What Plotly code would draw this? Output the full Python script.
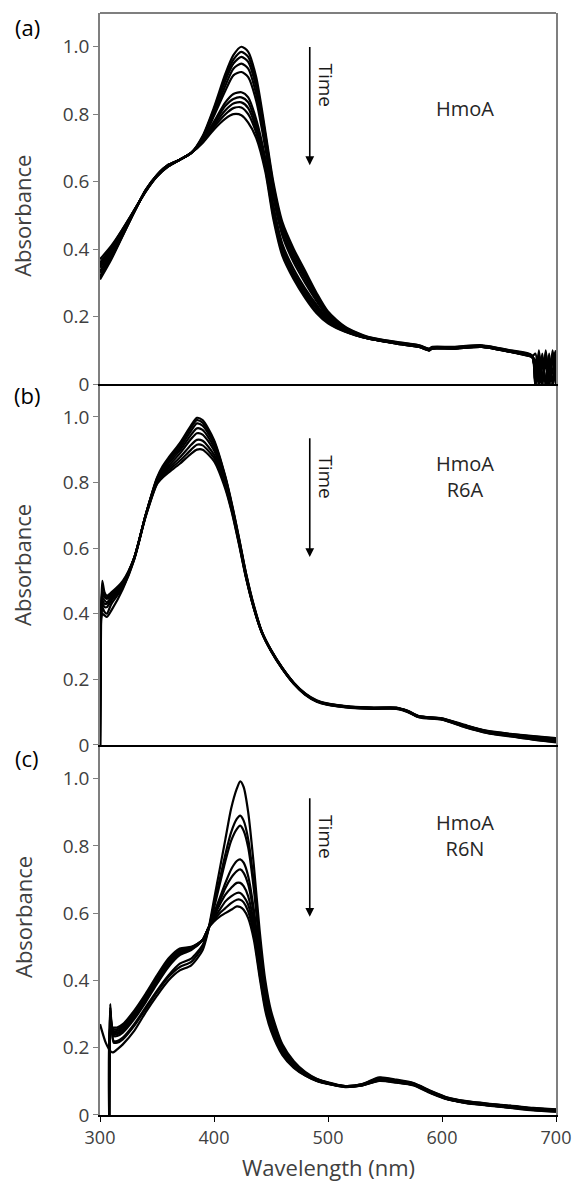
import plotly.graph_objects as go

# ---- panel (a) HmoA ----
wl_a = [300, 310, 320, 330, 340, 350, 360, 370, 380, 390, 400, 410, 417, 424, 430, 437, 445, 452, 460, 470,
        480, 490, 500, 515, 535, 560, 580, 589, 591, 610, 635, 660, 679, 682, 685, 688, 691, 694, 697, 700]
abs_a = [
    [0.31, 0.37, 0.44, 0.51, 0.575, 0.62, 0.65, 0.665, 0.685, 0.735, 0.82, 0.92, 0.975, 1.00, 0.985, 0.91, 0.75, 0.60, 0.48, 0.40,
     0.335, 0.27, 0.215, 0.17, 0.14, 0.125, 0.115, 0.105, 0.11, 0.11, 0.115, 0.10, 0.085, 0.00, 0.10, 0.01, 0.095, 0.00, 0.10, 0.03],
    [0.315, 0.375, 0.44, 0.51, 0.575, 0.62, 0.65, 0.665, 0.685, 0.732, 0.815, 0.91, 0.962, 0.985, 0.97, 0.895, 0.74, 0.59, 0.47, 0.39,
     0.326, 0.264, 0.21, 0.168, 0.139, 0.124, 0.114, 0.104, 0.109, 0.109, 0.114, 0.099, 0.084, 0.02, 0.09, 0.00, 0.10, 0.01, 0.09, 0.00],
    [0.32, 0.38, 0.445, 0.51, 0.575, 0.62, 0.65, 0.665, 0.685, 0.73, 0.81, 0.90, 0.95, 0.97, 0.955, 0.88, 0.73, 0.58, 0.46, 0.38,
     0.318, 0.258, 0.206, 0.166, 0.138, 0.123, 0.113, 0.103, 0.108, 0.108, 0.113, 0.098, 0.083, 0.05, 0.00, 0.08, 0.00, 0.09, 0.00, 0.08],
    [0.33, 0.385, 0.445, 0.51, 0.573, 0.618, 0.648, 0.665, 0.685, 0.727, 0.80, 0.885, 0.935, 0.95, 0.935, 0.86, 0.715, 0.57, 0.45, 0.37,
     0.31, 0.252, 0.202, 0.164, 0.137, 0.122, 0.112, 0.102, 0.107, 0.107, 0.112, 0.097, 0.082, 0.00, 0.07, 0.00, 0.08, 0.02, 0.07, 0.10],
    [0.335, 0.39, 0.45, 0.512, 0.573, 0.618, 0.648, 0.665, 0.685, 0.725, 0.795, 0.87, 0.915, 0.925, 0.91, 0.84, 0.70, 0.555, 0.44, 0.36,
     0.30, 0.246, 0.198, 0.162, 0.136, 0.122, 0.112, 0.102, 0.107, 0.107, 0.112, 0.097, 0.082, 0.09, 0.00, 0.06, 0.01, 0.00, 0.09, 0.02],
    [0.345, 0.395, 0.452, 0.513, 0.572, 0.617, 0.647, 0.665, 0.685, 0.72, 0.778, 0.835, 0.86, 0.865, 0.85, 0.785, 0.67, 0.53, 0.415, 0.34,
     0.283, 0.235, 0.193, 0.16, 0.136, 0.121, 0.111, 0.101, 0.106, 0.106, 0.111, 0.096, 0.081, 0.00, 0.09, 0.00, 0.00, 0.07, 0.00, 0.09],
    [0.35, 0.40, 0.455, 0.514, 0.572, 0.617, 0.647, 0.665, 0.685, 0.72, 0.773, 0.825, 0.845, 0.85, 0.835, 0.77, 0.66, 0.52, 0.405, 0.33,
     0.275, 0.229, 0.19, 0.158, 0.135, 0.121, 0.111, 0.101, 0.106, 0.106, 0.111, 0.096, 0.081, 0.06, 0.02, 0.09, 0.00, 0.05, 0.01, 0.06],
    [0.355, 0.40, 0.457, 0.515, 0.571, 0.616, 0.646, 0.665, 0.685, 0.718, 0.768, 0.812, 0.832, 0.835, 0.818, 0.758, 0.65, 0.51, 0.395, 0.322,
     0.268, 0.223, 0.186, 0.157, 0.135, 0.12, 0.11, 0.10, 0.105, 0.105, 0.11, 0.095, 0.08, 0.00, 0.05, 0.00, 0.08, 0.00, 0.00, 0.05],
    [0.36, 0.405, 0.46, 0.515, 0.571, 0.616, 0.646, 0.665, 0.685, 0.717, 0.762, 0.80, 0.818, 0.82, 0.80, 0.745, 0.64, 0.50, 0.387, 0.315,
     0.261, 0.216, 0.183, 0.156, 0.135, 0.12, 0.11, 0.10, 0.105, 0.105, 0.11, 0.095, 0.08, 0.07, 0.00, 0.02, 0.06, 0.00, 0.04, 0.08],
    [0.37, 0.41, 0.46, 0.515, 0.57, 0.615, 0.645, 0.665, 0.685, 0.715, 0.755, 0.787, 0.80, 0.797, 0.775, 0.73, 0.63, 0.49, 0.38, 0.31,
     0.255, 0.21, 0.18, 0.155, 0.135, 0.12, 0.11, 0.10, 0.105, 0.105, 0.11, 0.095, 0.08, 0.00, 0.00, 0.08, 0.00, 0.01, 0.08, 0.00],
]

# ---- panel (b) HmoA R6A ----
wl_b = [300, 301, 302, 304, 306, 310, 320, 330, 340, 350, 355, 360, 370, 380, 385, 390, 400, 410, 416, 422,
        428, 435, 442, 450, 460, 470, 480, 490, 500, 520, 540, 560, 570, 580, 600, 620, 640, 660, 680, 700]
abs_b = [
    [0.0, 0.39, 0.40, 0.395, 0.39, 0.41, 0.475, 0.565, 0.70, 0.815, 0.85, 0.875, 0.92, 0.975, 0.997, 0.99, 0.93, 0.818, 0.73, 0.63,
     0.525, 0.425, 0.345, 0.29, 0.235, 0.19, 0.157, 0.136, 0.126, 0.117, 0.114, 0.114, 0.104, 0.088, 0.081, 0.061, 0.043, 0.034, 0.027, 0.021],
    [0.0, 0.40, 0.50, 0.465, 0.455, 0.465, 0.50, 0.57, 0.70, 0.812, 0.845, 0.87, 0.913, 0.968, 0.99, 0.982, 0.925, 0.815, 0.727, 0.628,
     0.523, 0.423, 0.345, 0.289, 0.234, 0.189, 0.156, 0.135, 0.125, 0.116, 0.113, 0.113, 0.103, 0.087, 0.08, 0.06, 0.042, 0.033, 0.026, 0.019],
    [0.0, 0.40, 0.47, 0.455, 0.45, 0.46, 0.495, 0.57, 0.70, 0.81, 0.84, 0.865, 0.905, 0.958, 0.98, 0.973, 0.918, 0.812, 0.724, 0.625,
     0.521, 0.421, 0.344, 0.289, 0.234, 0.189, 0.156, 0.135, 0.125, 0.116, 0.113, 0.113, 0.103, 0.087, 0.08, 0.059, 0.041, 0.032, 0.024, 0.017],
    [0.0, 0.40, 0.46, 0.45, 0.445, 0.455, 0.495, 0.57, 0.70, 0.808, 0.835, 0.858, 0.897, 0.946, 0.965, 0.96, 0.908, 0.805, 0.72, 0.622,
     0.518, 0.419, 0.344, 0.288, 0.233, 0.188, 0.155, 0.134, 0.124, 0.115, 0.112, 0.112, 0.102, 0.086, 0.079, 0.058, 0.04, 0.03, 0.022, 0.015],
    [0.0, 0.40, 0.45, 0.44, 0.435, 0.45, 0.49, 0.57, 0.70, 0.805, 0.83, 0.85, 0.888, 0.933, 0.95, 0.946, 0.898, 0.80, 0.716, 0.619,
     0.516, 0.418, 0.343, 0.288, 0.233, 0.188, 0.155, 0.134, 0.124, 0.115, 0.112, 0.112, 0.102, 0.086, 0.079, 0.057, 0.039, 0.029, 0.02, 0.013],
    [0.0, 0.40, 0.44, 0.43, 0.43, 0.445, 0.49, 0.57, 0.698, 0.80, 0.825, 0.843, 0.876, 0.915, 0.93, 0.927, 0.885, 0.793, 0.712, 0.616,
     0.514, 0.417, 0.343, 0.287, 0.232, 0.187, 0.154, 0.133, 0.123, 0.114, 0.111, 0.111, 0.101, 0.085, 0.078, 0.056, 0.038, 0.028, 0.018, 0.011],
    [0.0, 0.40, 0.43, 0.42, 0.42, 0.44, 0.485, 0.568, 0.697, 0.797, 0.82, 0.836, 0.866, 0.90, 0.915, 0.913, 0.875, 0.786, 0.708, 0.613,
     0.512, 0.416, 0.342, 0.287, 0.232, 0.187, 0.154, 0.133, 0.123, 0.114, 0.111, 0.111, 0.101, 0.085, 0.078, 0.055, 0.037, 0.027, 0.017, 0.009],
    [0.0, 0.40, 0.42, 0.405, 0.40, 0.43, 0.48, 0.566, 0.695, 0.795, 0.815, 0.83, 0.857, 0.888, 0.90, 0.90, 0.865, 0.78, 0.704, 0.61,
     0.51, 0.415, 0.342, 0.286, 0.231, 0.186, 0.153, 0.132, 0.122, 0.113, 0.11, 0.11, 0.1, 0.084, 0.077, 0.054, 0.036, 0.026, 0.016, 0.008],
]

# ---- panel (c) HmoA R6N ----
wl_c = [300, 305, 308, 309, 310, 312, 315, 320, 330, 340, 350, 360, 370, 380, 390, 395, 400, 405, 410, 415, 420, 423,
        426, 430, 435, 440, 445, 450, 460, 470, 480, 490, 500, 515, 530, 545, 560, 575, 590, 605, 620, 640, 660, 680, 700]
abs_c = [
    [0.27, 0.215, 0.195, 0.19, 0.187, 0.187, 0.195, 0.21, 0.25, 0.305, 0.355, 0.40, 0.43, 0.445, 0.49, 0.55, 0.64, 0.73, 0.82, 0.91, 0.97, 0.992,
     0.975, 0.90, 0.74, 0.55, 0.40, 0.31, 0.21, 0.16, 0.128, 0.108, 0.097, 0.086, 0.092, 0.112, 0.105, 0.095, 0.072, 0.052, 0.042, 0.034, 0.028, 0.021, 0.017],
    [None, None, 0.0, 0.33, 0.27, 0.215, 0.215, 0.225, 0.265, 0.315, 0.365, 0.41, 0.44, 0.455, 0.50, 0.55, 0.625, 0.70, 0.775, 0.84, 0.88, 0.89,
     0.875, 0.82, 0.69, 0.52, 0.385, 0.30, 0.205, 0.155, 0.125, 0.107, 0.096, 0.086, 0.091, 0.110, 0.103, 0.094, 0.071, 0.051, 0.041, 0.033, 0.027, 0.02, 0.016],
    [None, None, 0.0, 0.32, 0.27, 0.22, 0.22, 0.23, 0.27, 0.32, 0.37, 0.415, 0.45, 0.465, 0.505, 0.55, 0.615, 0.685, 0.755, 0.815, 0.85, 0.86,
     0.845, 0.795, 0.67, 0.505, 0.375, 0.295, 0.20, 0.153, 0.124, 0.106, 0.096, 0.086, 0.091, 0.109, 0.102, 0.093, 0.07, 0.05, 0.04, 0.032, 0.026, 0.019, 0.015],
    [None, None, 0.0, 0.31, 0.27, 0.235, 0.235, 0.245, 0.285, 0.335, 0.39, 0.44, 0.475, 0.49, 0.52, 0.555, 0.60, 0.645, 0.69, 0.73, 0.755, 0.76,
     0.75, 0.71, 0.61, 0.47, 0.355, 0.28, 0.195, 0.15, 0.122, 0.105, 0.095, 0.085, 0.09, 0.107, 0.101, 0.092, 0.069, 0.049, 0.039, 0.031, 0.025, 0.018, 0.014],
    [None, None, 0.0, 0.30, 0.27, 0.24, 0.24, 0.25, 0.29, 0.34, 0.395, 0.445, 0.48, 0.493, 0.52, 0.555, 0.595, 0.635, 0.675, 0.705, 0.725, 0.73,
     0.72, 0.685, 0.595, 0.46, 0.35, 0.275, 0.192, 0.148, 0.121, 0.104, 0.094, 0.085, 0.09, 0.106, 0.1, 0.091, 0.068, 0.048, 0.038, 0.031, 0.024, 0.017, 0.013],
    [None, None, 0.0, 0.29, 0.27, 0.245, 0.245, 0.255, 0.295, 0.345, 0.40, 0.45, 0.485, 0.495, 0.52, 0.555, 0.59, 0.625, 0.655, 0.675, 0.69, 0.69,
     0.68, 0.65, 0.57, 0.445, 0.34, 0.27, 0.188, 0.146, 0.12, 0.103, 0.094, 0.085, 0.089, 0.104, 0.099, 0.09, 0.067, 0.048, 0.038, 0.03, 0.023, 0.016, 0.012],
    [None, None, 0.0, 0.28, 0.265, 0.25, 0.25, 0.26, 0.30, 0.35, 0.405, 0.455, 0.49, 0.497, 0.52, 0.555, 0.585, 0.61, 0.635, 0.65, 0.66, 0.66,
     0.65, 0.625, 0.55, 0.43, 0.33, 0.265, 0.185, 0.144, 0.119, 0.103, 0.093, 0.084, 0.089, 0.103, 0.098, 0.09, 0.066, 0.047, 0.037, 0.029, 0.022, 0.015, 0.011],
    [None, None, 0.0, 0.27, 0.265, 0.255, 0.255, 0.265, 0.305, 0.355, 0.41, 0.46, 0.492, 0.498, 0.52, 0.555, 0.58, 0.60, 0.615, 0.63, 0.64, 0.64,
     0.632, 0.605, 0.535, 0.42, 0.32, 0.26, 0.182, 0.142, 0.118, 0.102, 0.093, 0.084, 0.088, 0.102, 0.097, 0.089, 0.066, 0.047, 0.037, 0.029, 0.022, 0.015, 0.011],
    [None, None, 0.0, 0.26, 0.26, 0.26, 0.26, 0.27, 0.31, 0.36, 0.415, 0.465, 0.495, 0.50, 0.52, 0.555, 0.575, 0.59, 0.60, 0.61, 0.62, 0.618,
     0.61, 0.585, 0.52, 0.41, 0.31, 0.25, 0.178, 0.14, 0.117, 0.101, 0.092, 0.083, 0.088, 0.101, 0.096, 0.088, 0.065, 0.046, 0.036, 0.028, 0.021, 0.014, 0.01],
]

y_ticks = [0, 0.2, 0.4, 0.6, 0.8, 1.0]
y_ticktext = ["0", "0.2", "0.4", "0.6", "0.8", "1.0"]
x_ticks = [300, 400, 500, 600, 700]
panel_letters = ["(a)", "(b)", "(c)"]
sample_names = ["HmoA", "HmoA<br>R6A", "HmoA<br>R6N"]

FONT = "Open Sans"
GRAY = "#7f7f7f"
TXT = "#404040"

fig = go.Figure()

# panel -> (x axis id, y axis id)
panels = [("x3", "y3", wl_a, abs_a), ("x2", "y2", wl_b, abs_b), ("x", "y", wl_c, abs_c)]
for xa, ya, wl, curves in panels:
    for spec in curves:
        fig.add_trace(go.Scatter(x=wl, y=spec, xaxis=xa, yaxis=ya, mode="lines",
                                 line=dict(color="black", width=2.2, shape="spline", smoothing=0.7),
                                 showlegend=False, hoverinfo="skip"))

# domains (paper fractions)
dom_c = [0, 0.3358]
dom_b = [0.3358, 0.6633]
dom_a = [0.6633, 1.0]

yax = dict(range=[0, 1.1], tickvals=y_ticks, ticktext=y_ticktext, ticks="outside", ticklen=5,
           tickcolor=GRAY, tickwidth=1.2, showline=True, linecolor=GRAY, linewidth=1.5, mirror=True,
           showgrid=False, zeroline=False, automargin=False,
           tickfont=dict(family=FONT, size=19, color=TXT))
xax = dict(range=[300, 700], showline=True, linecolor="black", linewidth=2, showgrid=False,
           zeroline=False, automargin=False)

fig.update_layout(
    width=572, height=1182,
    margin=dict(l=100, r=16, t=13, b=67),
    plot_bgcolor="white", paper_bgcolor="white",
    xaxis=dict(**xax, anchor="y", tickvals=x_ticks, ticks="outside", ticklen=5, tickcolor="black",
               ticklabeloverflow="allow", tickfont=dict(family=FONT, size=18, color=TXT)),
    xaxis2=dict(**xax, anchor="y2", matches="x", showticklabels=False, ticks=""),
    xaxis3=dict(**xax, anchor="y3", matches="x", showticklabels=False, ticks=""),
    yaxis=dict(**yax, domain=dom_c, anchor="x"),
    yaxis2=dict(**yax, domain=dom_b, anchor="x2"),
    yaxis3=dict(**yax, domain=dom_a, anchor="x3"),
)

# top border of panel (a)
fig.add_shape(type="line", xref="paper", yref="paper", x0=0, x1=1, y0=1, y1=1,
              line=dict(color=GRAY, width=2))

# arrows, labels
arrow_y = [(1.004, 0.649, 0.886, 0.818), (0.939, 0.573, 0.817, 0.817), (0.946, 0.589, 0.827, 0.83)]
letter_y = [0.987, 0.653, 0.324]
title_y = [0.5, 0.55, 0.59]
for i, (xa, ya, wl, curves) in enumerate(panels):
    tail, head, time_y, name_y = arrow_y[i]
    fig.add_annotation(x=484, y=head, ax=484, ay=tail, xref=xa, yref=ya, axref=xa, ayref=ya,
                       text="", showarrow=True, arrowhead=2, arrowsize=1.1, arrowwidth=1.6,
                       arrowcolor="black")
    fig.add_annotation(x=498, y=time_y, xref=xa, yref=ya, text="Time", textangle=90, showarrow=False,
                       xanchor="center", yanchor="middle",
                       font=dict(family=FONT, size=19, color="#1a1a1a"))
    fig.add_annotation(x=620, y=name_y, xref=xa, yref=ya, text=sample_names[i], showarrow=False,
                       xanchor="center", yanchor="middle",
                       font=dict(family=FONT, size=20, color="#262626"), align="center")
    fig.add_annotation(x=-0.159, y=letter_y[i], xref="paper", yref="paper", text=panel_letters[i],
                       showarrow=False, xanchor="center", yanchor="middle",
                       font=dict(family=FONT, size=22, color="black"))
    fig.add_annotation(x=-0.170, y=title_y[i], xref="paper", yref=ya, text="Absorbance", textangle=-90,
                       showarrow=False, xanchor="center", yanchor="middle",
                       font=dict(family=FONT, size=22, color=TXT))

fig.add_annotation(x=0.5, y=-0.047, xref="paper", yref="paper", text="Wavelength (nm)", showarrow=False,
                   xanchor="center", yanchor="middle",
                   font=dict(family=FONT, size=22, color=TXT))

# page body has a default 8px margin; drop it so the figure sits at the window origin
fig.write_html("out.html", config={"displayModeBar": False},
               post_script="document.body.style.margin='0';")
